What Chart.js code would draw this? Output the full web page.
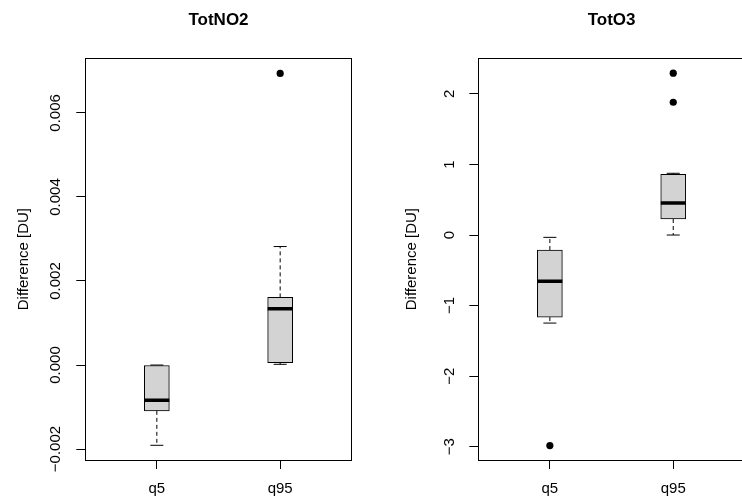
<!DOCTYPE html>
<html>
<head>
<meta charset="utf-8">
<script src="https://cdn.jsdelivr.net/npm/chart.js@4/dist/chart.umd.min.js"></script>
<style>
  html, body { margin: 0; padding: 0; background: #fff; overflow: hidden; width: 742px; height: 498px; }
  canvas { position: absolute; top: 0; }
</style>
</head>
<body>
<canvas id="c-no2" width="371" height="498" style="left:0;width:371px;height:498px"></canvas>
<canvas id="c-o3" width="440" height="498" style="left:371px;width:440px;height:498px"></canvas>
<script>
/* two R-style boxplots side by side: TotNO2 and TotO3 differences */

const categories = ['q5', 'q95'];

// TotNO2
const no2Lo  = [-0.00191, 0.000017];
const no2Q1  = [-0.00109, 0.000055];
const no2Med = [-0.00084, 0.00134];
const no2Q3  = [0.0, 0.00161];
const no2Hi  = [0.0, 0.00282];
const no2Out = [[], [0.00694]];
const no2Ticks = [-0.002, 0, 0.002, 0.004, 0.006];
const no2Range = [-0.00226, 0.0073];

// TotO3
const o3Lo  = [-1.248, 0.0];
const o3Q1  = [-1.163, 0.227];
const o3Med = [-0.657, 0.454];
const o3Q3  = [-0.213, 0.861];
const o3Hi  = [-0.033, 0.875];
const o3Out = [[-2.985], [2.294, 1.882]];
const o3Ticks = [-3, -2, -1, 0, 1, 2];
const o3Range = [-3.189, 2.505];

const FONT = '"Liberation Sans", Arial, Helvetica, sans-serif';
Chart.defaults.color = '#000';
Chart.defaults.font.family = FONT;

const minus = s => s.replace('-', '\u2212');

function widestLabel(labels, size) {
  const c = document.createElement('canvas').getContext('2d');
  c.font = `${size}px ${FONT}`;
  return Math.max(...labels.map(t => c.measureText(t).width));
}

const framePlugin = {
  id: 'frame',
  afterDraw(chart) {
    const { ctx, chartArea: a } = chart;
    ctx.save();
    ctx.strokeStyle = '#000';
    ctx.lineWidth = 1;
    ctx.strokeRect(Math.round(a.left) + 0.5, Math.round(a.top) + 0.5,
      Math.round(a.right - a.left), Math.round(a.bottom - a.top));
    ctx.restore();
  }
};

function boxDatasets(lo, q1, med, q3, hi, out) {
  const xs = categories.map((_, i) => i + 1);
  const whisk = [], caps = [], pts = [];
  xs.forEach((x, i) => {
    whisk.push({ x, y: q3[i] }, { x, y: hi[i] }, { x, y: null },
               { x, y: q1[i] }, { x, y: lo[i] }, { x, y: null });
    caps.push({ x, y: lo[i] }, { x, y: hi[i] });
    out[i].forEach(v => pts.push({ x, y: v }));
  });
  return [
    { type: 'scatter', data: xs.map((x, i) => ({ x, y: med[i] })),
      pointStyle: 'line', pointRadius: 12.5, borderWidth: 3.5, borderColor: '#000', order: 0 },
    { type: 'scatter', data: pts, pointStyle: 'circle', pointRadius: 3.6,
      backgroundColor: '#000', borderColor: '#000', borderWidth: 0, order: 1 },
    { type: 'scatter', data: caps, pointStyle: 'line', pointRadius: 6.5,
      borderWidth: 1, borderColor: '#000', order: 2 },
    { type: 'line', data: whisk, borderColor: '#000', borderWidth: 1, borderDash: [4, 3],
      pointRadius: 0, spanGaps: false, order: 3 },
    { type: 'bar', data: xs.map((x, i) => ({ x, y: [q1[i], q3[i]] })),
      backgroundColor: '#d3d3d3', borderColor: '#000', borderWidth: 1,
      borderSkipped: false, barThickness: 25, order: 4 },
  ];
}

function makePanel(id, title, datasets, ticks, range, fmt, yWidth, rightPad, yTitlePad, labelGap) {
  const TICK = 9, FS = 15;
  const w = widestLabel(ticks.map(fmt), FS);
  return new Chart(document.getElementById(id), {
    type: 'bar',
    data: { datasets },
    plugins: [framePlugin],
    options: {
      responsive: false,
      animation: false,
      events: [],
      layout: { padding: { top: 0, left: 0, right: rightPad, bottom: 0 } },
      plugins: {
        legend: { display: false },
        tooltip: { enabled: false },
        title: {
          display: true, text: title, fullSize: false, color: '#000',
          font: { size: 17, weight: 'bold', lineHeight: 1.2 },
          padding: { top: 10, bottom: 27.9 },
        },
      },
      scales: {
        x: {
          type: 'linear', min: 0.42, max: 2.58, offset: false,
          afterBuildTicks: s => { s.ticks = categories.map((_, i) => ({ value: i + 1 })); },
          afterFit: s => { s.height = 38; },
          ticks: { autoSkip: false, maxRotation: 0, padding: 11, font: { size: FS },
                   callback: v => categories[v - 1] },
          grid: { display: true, drawOnChartArea: false, drawTicks: true, tickLength: TICK,
                  tickColor: '#000', offset: false },
          border: { display: false },
        },
        y: {
          type: 'linear', min: range[0], max: range[1], beginAtZero: false,
          afterBuildTicks: s => { s.ticks = ticks.map(v => ({ value: v })); },
          afterFit: s => { s.width = yWidth; },
          ticks: { font: { size: FS }, minRotation: 90, maxRotation: 90, crossAlign: 'center',
                   padding: labelGap - TICK - w / 2, callback: v => fmt(v) },
          grid: { display: true, drawOnChartArea: false, drawTicks: true, tickLength: TICK,
                  tickColor: '#000' },
          border: { display: false },
          title: { display: true, text: 'Difference [DU]', font: { size: FS, lineHeight: 1.2 },
                   padding: { top: yTitlePad, bottom: 0 } },
        },
      },
    },
  });
}

makePanel('c-no2', 'TotNO2',
  boxDatasets(no2Lo, no2Q1, no2Med, no2Q3, no2Hi, no2Out),
  no2Ticks, no2Range, v => minus(v.toFixed(3)), 85.3, 19.3, 14.5, 29.3);

makePanel('c-o3', 'TotO3',
  boxDatasets(o3Lo, o3Q1, o3Med, o3Q3, o3Hi, o3Out),
  o3Ticks, o3Range, v => minus(String(v)), 107.3, 66.2, 31.5, 28.3);
</script>
</body>
</html>
